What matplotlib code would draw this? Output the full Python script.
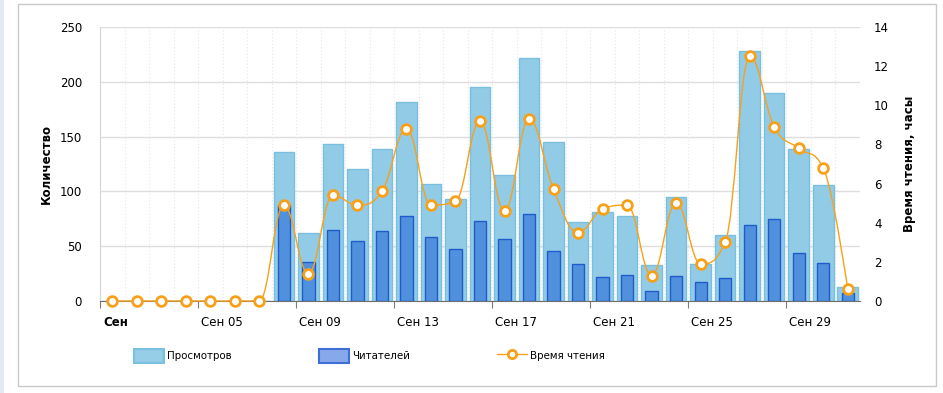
import numpy as np
import matplotlib
matplotlib.use("Agg")
import matplotlib.pyplot as plt
import matplotlib.transforms as mtransforms
from matplotlib.path import Path
from matplotlib.patches import PathPatch, Rectangle, Patch
from matplotlib.lines import Line2D

# Data (one value per day, Sep 01 .. Oct 01)
views = [0, 0, 0, 0, 0, 0, 0, 136, 62, 143, 120, 139, 182, 107, 93, 195, 115, 222,
         145, 72, 81, 78, 33, 95, 34, 60, 228, 190, 139, 106, 13]
readers = [0, 0, 0, 0, 0, 0, 0, 88, 36, 65, 55, 64, 78, 58, 47, 73, 57, 79,
           46, 34, 22, 24, 9, 23, 17, 21, 69, 75, 44, 35, 7]
hours = [0, 0, 0, 0, 0, 0, 0, 4.9, 1.4, 5.4, 4.9, 5.6, 8.8, 4.9, 5.1, 9.2, 4.6, 9.3,
         5.7, 3.5, 4.7, 4.9, 1.3, 5.0, 1.9, 3.0, 12.5, 8.9, 7.8, 6.8, 0.6]
tick_labels = ["Сен", "Сен 05", "Сен 09", "Сен 13", "Сен 17", "Сен 21", "Сен 25", "Сен 29"]

light_fill = "#92cbe6"
light_edge = "#7bbfe0"
dark_fill = "#5090dc"
dark_edge = "#1f5bcb"
orange = "#f7a11a"

W, H = 943, 393


# Spline control points the way the web chart draws its smooth line
def spline_path(xs, ys, smoothing=1.5):
    n = len(xs)
    lc = [(xs[i], ys[i]) for i in range(n)]
    rc = [(xs[i], ys[i]) for i in range(n)]
    d = smoothing + 1
    for i in range(1, n - 1):
        px, py = xs[i], ys[i]
        lx, ly = xs[i - 1], ys[i - 1]
        nx, ny = xs[i + 1], ys[i + 1]
        lcx = (smoothing * px + lx) / d
        lcy = (smoothing * py + ly) / d
        rcx = (smoothing * px + nx) / d
        rcy = (smoothing * py + ny) / d
        if rcx != lcx:
            corr = (rcy - lcy) * (rcx - px) / (rcx - lcx) + py - rcy
            lcy += corr
            rcy += corr
        if lcy > ly and lcy > py:
            lcy = max(ly, py)
            rcy = 2 * py - lcy
        elif lcy < ly and lcy < py:
            lcy = min(ly, py)
            rcy = 2 * py - lcy
        if rcy > ny and rcy > py:
            rcy = max(ny, py)
            lcy = 2 * py - rcy
        elif rcy < ny and rcy < py:
            rcy = min(ny, py)
            lcy = 2 * py - rcy
        lc[i] = (lcx, lcy)
        rc[i] = (rcx, rcy)
    verts = [(xs[0], ys[0])]
    codes = [Path.MOVETO]
    for i in range(1, n):
        verts += [rc[i - 1], lc[i], (xs[i], ys[i])]
        codes += [Path.CURVE4] * 3
    return Path(verts, codes)


fig = plt.figure(figsize=(W / 100, H / 100), dpi=100)
fig.patch.set_facecolor("white")
# light strip on the far left and the chart border
fig.add_artist(Rectangle((0, 0), 4 / W, 1, transform=fig.transFigure,
                         facecolor="#e3e9f3", edgecolor="none"))
fig.add_artist(Rectangle((18 / W, 7 / H), (936 - 18) / W, (386 - 4) / H,
                         transform=fig.transFigure, fill=False,
                         edgecolor="#c9c9c9", linewidth=1))

ax = fig.add_axes([100 / W, (H - 301) / H, 760 / W, 274 / H])
x = np.arange(len(views))

ax.bar(x, views, width=0.84, color=light_fill, edgecolor=light_edge, linewidth=1, zorder=2)
ax.bar(x, readers, width=0.5, color=dark_fill, edgecolor=dark_edge, linewidth=1, zorder=3)

ax.set_xlim(-0.5, len(views) - 0.5)
ax.set_ylim(0, 250)
ax.set_yticks(np.arange(0, 251, 50))
ax.yaxis.grid(True, color="#dedede", linewidth=1, zorder=0)
for b in np.arange(-0.5, len(views), 1.0):
    ax.axvline(b, color="#e6e6e6", linewidth=0.8, linestyle=(0, (1, 2)), zorder=0)
ax.set_axisbelow(True)

ticks = np.arange(-0.5, len(views), 4.0)
ax.set_xticks(ticks)
ax.set_xticklabels(tick_labels, ha="left", fontsize=8.5)
ax.get_xticklabels()[0].set_fontweight("bold")
ax.tick_params(axis="x", length=5, color="#7a7a7a", pad=6)
shift = mtransforms.ScaledTranslation(3 / 100, 0, fig.dpi_scale_trans)
for lab in ax.get_xticklabels():
    lab.set_transform(lab.get_transform() + shift)
ax.tick_params(axis="y", length=0, labelsize=8.5, pad=13)
ax.set_ylabel("Количество", fontsize=8.5, fontweight="bold", labelpad=5)

for s in ["top", "right"]:
    ax.spines[s].set_visible(False)
ax.spines["left"].set_color("#d4d4d4")
ax.spines["bottom"].set_color("#6e6e6e")

ax2 = ax.twinx()
ax2.set_ylim(0, 14)
ax2.set_yticks(np.arange(0, 15, 2))
ax2.tick_params(axis="y", length=0, labelsize=8.5, pad=10)
for s in ["top", "right", "left", "bottom"]:
    ax2.spines[s].set_visible(False)
ax2.set_ylabel("Время чтения, часы", fontsize=8.5, fontweight="bold", labelpad=10)

ax2.add_patch(PathPatch(spline_path(list(x), hours), fill=False, edgecolor=orange,
                        linewidth=1, zorder=4, clip_on=False))
ax2.plot(x, hours, linestyle="none", marker="o", markersize=7, markerfacecolor="white",
         markeredgecolor=orange, markeredgewidth=2, zorder=5, clip_on=False)

# legend, three separate items like the original
items = [
    (Patch(facecolor="#96cde7", edgecolor="#7cc0e0", linewidth=1.5), "Просмотров", 134),
    (Patch(facecolor="#88a9e9", edgecolor="#3e6fd6", linewidth=1.5), "Читателей", 319),
    (Line2D([], [], color=orange, linewidth=1, marker="o", markersize=6,
            markerfacecolor="white", markeredgecolor=orange, markeredgewidth=2),
     "Время чтения", 497),
]
for h, lab, px in items:
    fig.legend(handles=[h], labels=[lab], loc="center left",
               bbox_to_anchor=(px / W, 1 - 356 / H), frameon=False, borderpad=0,
               borderaxespad=0, handlelength=2.9, handleheight=1.75,
               handletextpad=0.35, fontsize=7.4)

fig.savefig("out.png", dpi=100)
